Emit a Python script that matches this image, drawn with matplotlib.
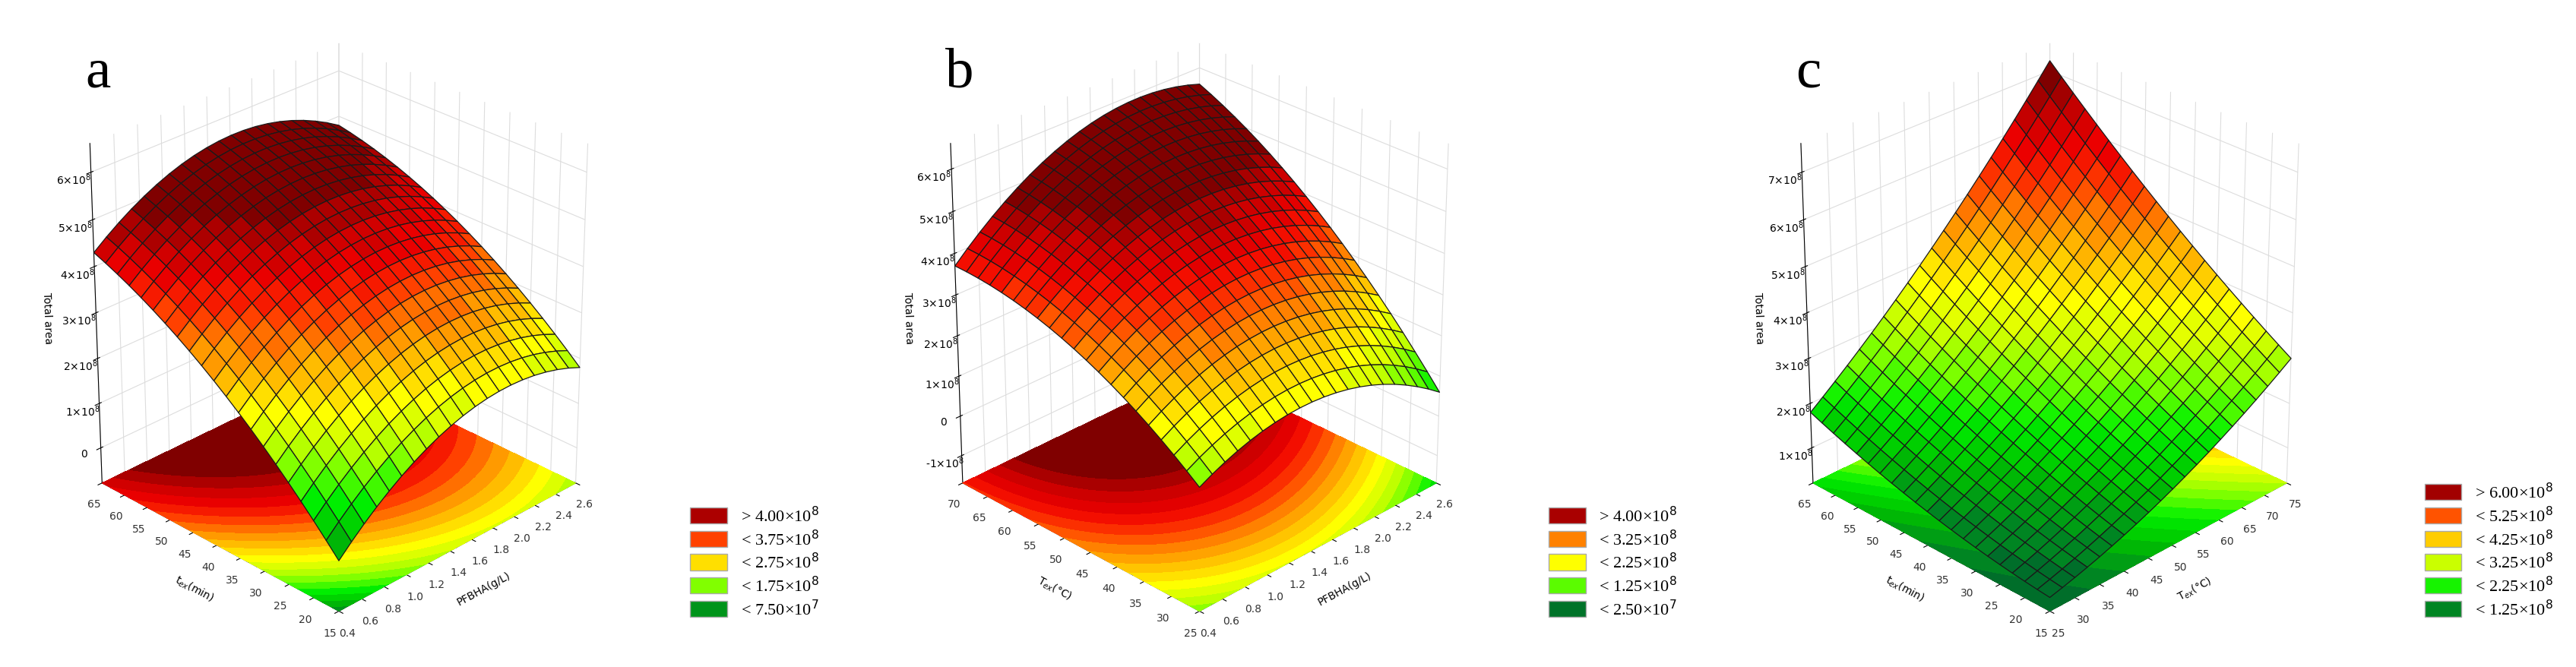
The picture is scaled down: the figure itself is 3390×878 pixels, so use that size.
import numpy as np
import matplotlib

matplotlib.use("Agg")
import matplotlib.pyplot as plt
from matplotlib.colors import LinearSegmentedColormap, BoundaryNorm
from matplotlib.patches import Patch
from matplotlib.ticker import FuncFormatter

# quadratic response-surface coefficients in coded units (u, v in [-1, 1]), Total area in 1e8
# order: b0, b_u, b_v, b_uu, b_vv, b_uv
coef_a = [4.30, 0.50, 1.75, -1.00, -0.50, -0.25]
coef_b = [4.40, 0.30, 1.85, -1.00, -0.60, 0.65]
coef_c = [2.63, 1.98, 1.38, 0.30, 0.20, 0.73]

x_range_a = [0.4, 2.6]
y_range_a = [15, 65]
x_range_b = [0.4, 2.6]
y_range_b = [25, 70]
x_range_c = [25, 75]
y_range_c = [15, 65]

x_ticks_a = [0.4, 0.6, 0.8, 1.0, 1.2, 1.4, 1.6, 1.8, 2.0, 2.2, 2.4, 2.6]
y_ticks_a = [15, 20, 25, 30, 35, 40, 45, 50, 55, 60, 65]
x_ticks_b = x_ticks_a
y_ticks_b = [25, 30, 35, 40, 45, 50, 55, 60, 65, 70]
x_ticks_c = [25, 30, 35, 40, 45, 50, 55, 60, 65, 70, 75]
y_ticks_c = y_ticks_a

z_ticks_a = [0, 1, 2, 3, 4, 5, 6]
z_ticks_b = [-1, 0, 1, 2, 3, 4, 5, 6]
z_ticks_c = [1, 2, 3, 4, 5, 6, 7]
z_floor = [-0.8, -1.7, 0.2]
z_top = [6.6, 6.6, 7.6]

legend_a = ["> 4.00×10$^8$", "< 3.75×10$^8$", "< 2.75×10$^8$", "< 1.75×10$^8$", "< 7.50×10$^7$"]
legend_a_vals = [4.6, 3.6, 2.6, 1.5, 0.4]
legend_b = ["> 4.00×10$^8$", "< 3.25×10$^8$", "< 2.25×10$^8$", "< 1.25×10$^8$", "< 2.50×10$^7$"]
legend_b_vals = [4.6, 3.1, 2.1, 1.0, -0.4]
legend_c = ["> 6.00×10$^8$", "< 5.25×10$^8$", "< 4.25×10$^8$", "< 3.25×10$^8$", "< 2.25×10$^8$", "< 1.25×10$^8$"]
legend_c_vals = [6.6, 5.1, 4.1, 3.1, 2.1, 0.9]

colors = ["#005a32", "#008a20", "#00c000", "#00f000", "#70ff00", "#c8ff00",
          "#ffff00", "#ffc800", "#ff8c00", "#ff4000", "#f00000", "#c80000", "#800000"]

SERIF = "Liberation Serif"


def surface(coef, xr, yr, n):
    x = np.linspace(xr[0], xr[1], n)
    y = np.linspace(yr[0], yr[1], n)
    X, Y = np.meshgrid(x, y)
    u = (X - (xr[0] + xr[1]) / 2) / ((xr[1] - xr[0]) / 2)
    v = (Y - (yr[0] + yr[1]) / 2) / ((yr[1] - yr[0]) / 2)
    b0, bu, bv, buu, bvv, buv = coef
    Z = b0 + bu * u + bv * v + buu * u ** 2 + bvv * v ** 2 + buv * u * v
    return X, Y, Z


def zfmt(val, pos):
    if abs(val) < 1e-9:
        return "0"
    return f"{int(round(val))}×10$^8$"


def draw_panel(fig, rect, letter, coef, xr, yr, xt, yt, zt, zlo, zhi,
               vmin, vmax, xlabel, ylabel, leg_labels, leg_vals, leg_pos):
    ax = fig.add_axes(rect, projection="3d")
    cmap = LinearSegmentedColormap.from_list("rsm", colors)
    levels = np.arange(np.floor(vmin * 4) / 4, vmax + 0.26, 0.25)
    norm = BoundaryNorm(levels, cmap.N, extend="both")

    Xf, Yf, Zf = surface(coef, xr, yr, 120)
    ax.contourf(Xf, Yf, Zf, levels=levels, cmap=cmap, norm=norm, zdir="z",
                offset=zlo, extend="both")

    X, Y, Z = surface(coef, xr, yr, 21)
    Zc = (Z[:-1, :-1] + Z[1:, 1:] + Z[1:, :-1] + Z[:-1, 1:]) / 4
    fc = cmap(norm(Zc))
    ax.plot_surface(X, Y, Z, facecolors=fc, edgecolor="#1a1a1a", linewidth=0.9,
                    shade=False, rstride=1, cstride=1, antialiased=True)

    ax.set_xlim(xr)
    ax.set_ylim(yr)
    ax.set_zlim(zlo, zhi)
    ax.set_xticks(xt)
    ax.set_yticks(yt)
    ax.set_zticks(zt)
    ax.set_xticklabels([f"{t:.1f}" if isinstance(t, float) else str(t) for t in xt],
                       fontsize=10, color="#333333")
    ax.set_yticklabels([str(t) for t in yt], fontsize=10, color="#333333")
    ax.zaxis.set_major_formatter(FuncFormatter(zfmt))
    ax.tick_params(axis="z", labelsize=10)
    ax.set_xlabel(xlabel, fontsize=10, labelpad=10)
    ax.set_ylabel(ylabel, fontsize=10, labelpad=10)
    ax.set_zlabel("Total area", fontsize=10, labelpad=12)
    ax.view_init(elev=28, azim=-135)
    ax.set_box_aspect((1, 1, 1.12), zoom=0.9)
    for axis in (ax.xaxis, ax.yaxis, ax.zaxis):
        axis.set_pane_color((1, 1, 1, 0))
        axis._axinfo["grid"]["color"] = "#dddddd"
        axis._axinfo["grid"]["linewidth"] = 0.8

    fig.text(rect[0] + 0.045, 0.87, letter, fontsize=54, family=SERIF)
    handles = [Patch(facecolor=cmap(norm(v)), edgecolor="#aaaaaa") for v in leg_vals]
    fig.legend(handles, leg_labels, loc="lower left", bbox_to_anchor=leg_pos,
               frameon=False, prop={"family": SERIF, "size": 16},
               handlelength=2.2, handleheight=1.1, labelspacing=0.25)
    return ax


fig = plt.figure(figsize=(33.91, 8.79), dpi=100)

draw_panel(fig, [-0.012, 0.01, 0.28, 1.0], "a", coef_a, x_range_a, y_range_a,
           x_ticks_a, y_ticks_a, z_ticks_a, z_floor[0], z_top[0], 0.0, 4.5,
           "PFBHA(g/L)", "t$_{ex}$(min)", legend_a, legend_a_vals, (0.262, 0.05))
draw_panel(fig, [0.322, 0.01, 0.28, 1.0], "b", coef_b, x_range_b, y_range_b,
           x_ticks_b, y_ticks_b, z_ticks_b, z_floor[1], z_top[1], -0.5, 4.5,
           "PFBHA(g/L)", "T$_{ex}$(°C)", legend_b, legend_b_vals, (0.595, 0.05))
draw_panel(fig, [0.652, 0.01, 0.28, 1.0], "c", coef_c, x_range_c, y_range_c,
           x_ticks_c, y_ticks_c, z_ticks_c, z_floor[2], z_top[2], 0.5, 6.5,
           "T$_{ex}$(°C)", "t$_{ex}$(min)", legend_c, legend_c_vals, (0.935, 0.05))

fig.savefig("out.png", dpi=100, facecolor="white")
